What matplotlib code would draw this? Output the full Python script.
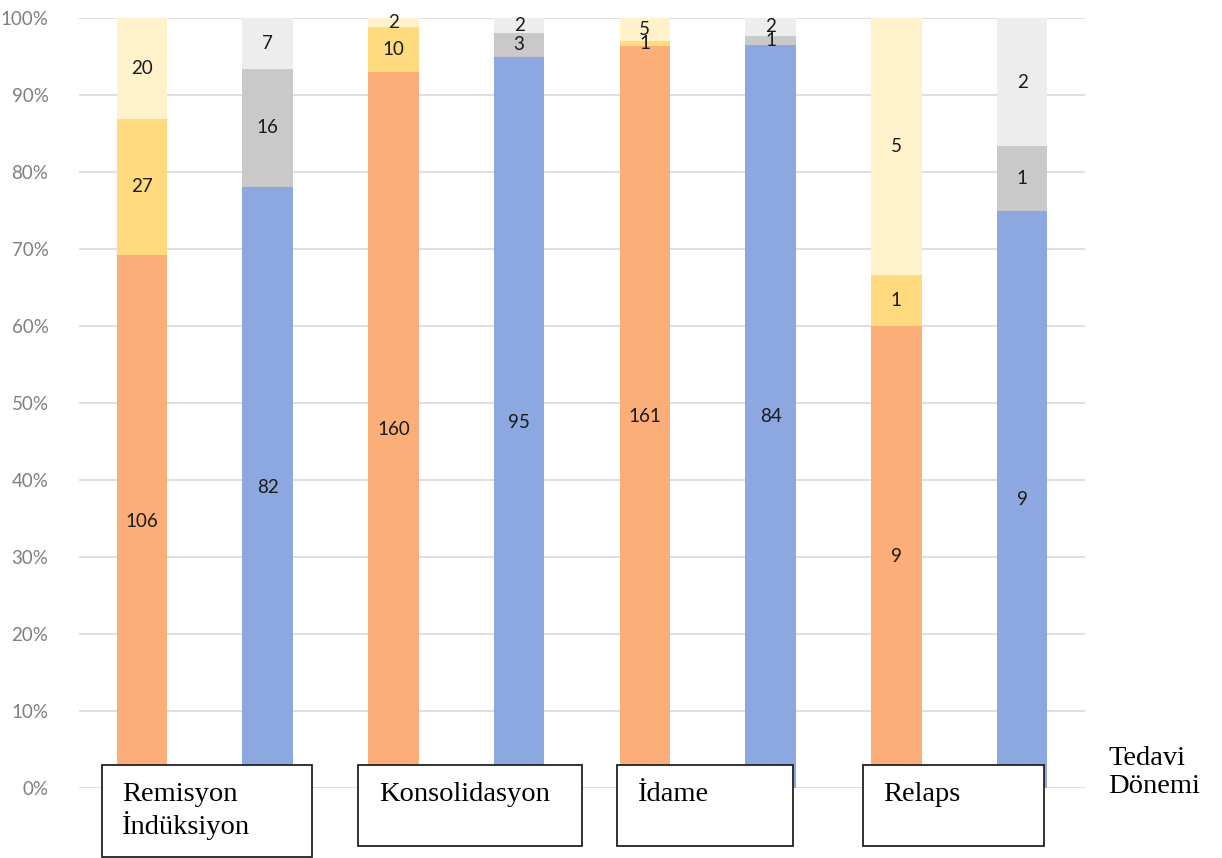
import matplotlib
matplotlib.use("Agg")
import matplotlib.pyplot as plt
from matplotlib.patches import Rectangle
from matplotlib.ticker import FuncFormatter
import numpy as np

# ---- data ----
periods = ["Remisyon\nİndüksiyon", "Konsolidasyon", "İdame", "Relaps"]
# orange group (bottom, middle, top)
orange_bottom = [106, 160, 161, 9]
orange_mid = [27, 10, 1, 1]
orange_top = [20, 2, 5, 5]
# blue group (bottom, middle, top)
blue_bottom = [82, 95, 84, 9]
blue_mid = [16, 3, 1, 1]
blue_top = [7, 2, 2, 2]
axis_title = "Tedavi\nDönemi"
yticks = [0, 10, 20, 30, 40, 50, 60, 70, 80, 90, 100]

# ---- styles ----
c_orange = "#FBAE78"
c_yellow = "#FFDA7E"
c_lyellow = "#FFF2CB"
c_blue = "#8DA8E1"
c_gray = "#C9C9C9"
c_lgray = "#EDEDED"

W, H = 1222, 858
fig = plt.figure(figsize=(W / 100, H / 100), dpi=100)
ax = fig.add_axes([79 / W, 1 - 788 / H, (1085 - 79) / W, (788 - 18) / H])

def pct(parts):
    tot = sum(parts)
    return [100.0 * p / tot for p in parts]

bar_w = 0.4
label_font = dict(family="Lato", fontsize=13.5, color="#1a1a1a", ha="center", va="center")

for i in range(len(periods)):
    for j, (segs, cols) in enumerate([
        ((orange_bottom[i], orange_mid[i], orange_top[i]), (c_orange, c_yellow, c_lyellow)),
        ((blue_bottom[i], blue_mid[i], blue_top[i]), (c_blue, c_gray, c_lgray)),
    ]):
        x = 2 * i + j
        ps = pct(segs)
        bottom = 0.0
        for val, p, col in zip(segs, ps, cols):
            ax.bar(x, p, bottom=bottom, width=bar_w, color=col, zorder=2, linewidth=0)
            ax.text(x, bottom + p / 2, str(val), zorder=3, **label_font)
            bottom += p

ax.set_xlim(-0.5, 7.5)
ax.set_ylim(0, 100)
ax.set_yticks(yticks)
ax.yaxis.set_major_formatter(FuncFormatter(lambda v, _: f"{int(v)}%"))
ax.set_xticks([])
for s in ax.spines.values():
    s.set_visible(False)
ax.grid(axis="y", color="#D9D9D9", linewidth=1.2, zorder=0)
ax.tick_params(axis="y", length=0, pad=22, labelsize=13.5, labelcolor="#7F7F7F")
for t in ax.get_yticklabels():
    t.set_family("Lato")

# ---- category boxes (figure overlay) ----
def fx(px):
    return px / W

def fy(py):
    return 1 - py / H

boxes = [(102, 312, 765, 857), (358, 582, 765, 846), (617, 793, 765, 846), (863, 1044, 765, 846)]
text_x = [122, 379, 638, 883]
for (x0, x1, y0, y1), tx, lab in zip(boxes, text_x, periods):
    r = Rectangle((fx(x0), fy(y1)), fx(x1) - fx(x0), fy(y0) - fy(y1),
                  transform=fig.transFigure, facecolor="white", edgecolor="#222222",
                  linewidth=1.3, zorder=5)
    fig.patches.append(r)
    fig.text(fx(tx), fy(782), lab, family="Liberation Serif", fontsize=20.5,
             ha="left", va="top", linespacing=1.18, zorder=6, color="black")

fig.text(fx(1108), fy(746), axis_title, family="Liberation Serif", fontsize=20.5,
         ha="left", va="top", linespacing=1.18, color="black")

fig.savefig("out.png", dpi=100)
